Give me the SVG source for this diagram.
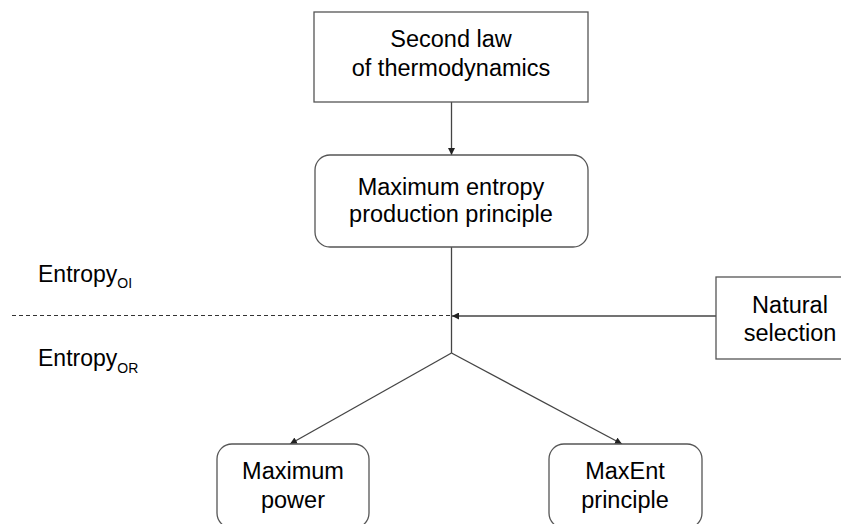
<svg xmlns="http://www.w3.org/2000/svg" width="841" height="524" viewBox="0 0 841 524">
<style>
.box{fill:#fff;stroke:#555;stroke-width:1.3}
.t{font-family:"Liberation Sans",Arial,sans-serif;font-size:23.5px;fill:#000;text-anchor:middle}
.l{font-family:"Liberation Sans",Arial,sans-serif;font-size:23px;fill:#000}
.sub{font-size:14px}
.c{stroke:#444;stroke-width:1.3;fill:none}
.d{stroke:#333;stroke-width:1;stroke-dasharray:4 3;fill:none}
</style>
<defs>
<marker id="ah" viewBox="0 0 10 10" refX="10" refY="5" markerWidth="7" markerHeight="7" markerUnits="userSpaceOnUse" orient="auto">
<path d="M0,0 L10,5 L0,10 z" fill="#222"/>
</marker>
</defs>
<rect width="841" height="524" fill="#fff"/>
<g id="connectors">
<line class="c" x1="451.5" y1="102" x2="451.5" y2="155" marker-end="url(#ah)"/>
<line class="c" x1="451.5" y1="247" x2="451.5" y2="353"/>
<line class="c" x1="451.5" y1="353" x2="290" y2="444" marker-end="url(#ah)"/>
<line class="c" x1="451.5" y1="353" x2="622" y2="444" marker-end="url(#ah)"/>
<line class="c" x1="716" y1="316" x2="452" y2="316" marker-end="url(#ah)"/>
<line class="d" x1="12" y1="315.5" x2="451" y2="315.5"/>
</g>
<g id="second-law">
<rect class="box" x="314" y="12" width="274" height="90"/>
<text class="t" x="451" y="47">Second law</text>
<text class="t" x="451" y="76">of thermodynamics</text>
</g>
<g id="mep">
<rect class="box" x="315" y="155" width="273" height="92" rx="15" ry="15"/>
<text class="t" x="451" y="195">Maximum entropy</text>
<text class="t" x="451" y="222">production principle</text>
</g>
<g id="natural-selection">
<rect class="box" x="716" y="277" width="130" height="82"/>
<text class="t" x="790" y="313">Natural</text>
<text class="t" x="790" y="341">selection</text>
</g>
<g id="max-power">
<rect class="box" x="217" y="444" width="152" height="84" rx="15" ry="15"/>
<text class="t" x="293" y="479">Maximum</text>
<text class="t" x="293" y="508">power</text>
</g>
<g id="maxent">
<rect class="box" x="549" y="444" width="153" height="84" rx="15" ry="15"/>
<text class="t" x="625" y="479">MaxEnt</text>
<text class="t" x="625" y="508">principle</text>
</g>
<g id="labels">
<text class="l" x="38" y="282">Entropy<tspan class="sub" dy="6">OI</tspan></text>
<text class="l" x="38" y="366">Entropy<tspan class="sub" dy="7">OR</tspan></text>
</g>
</svg>
